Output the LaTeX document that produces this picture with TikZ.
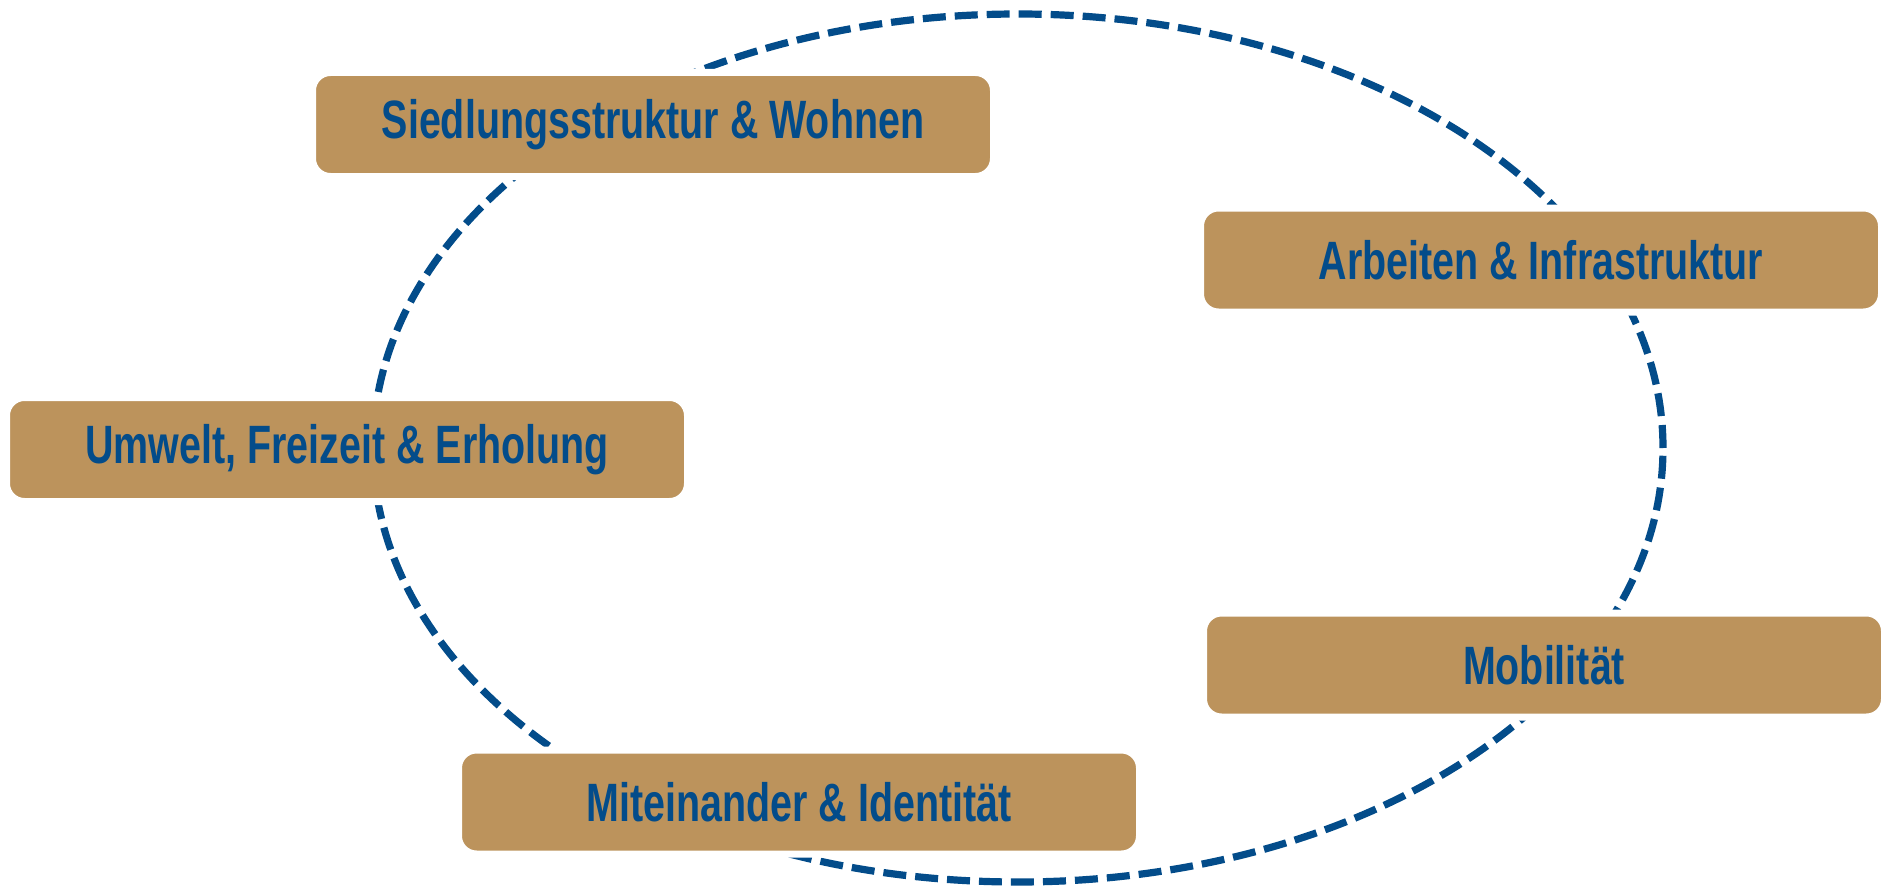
\documentclass[tikz,border=0pt]{standalone}
\usepackage{fontspec}
\setmainfont{Liberation Sans}
\newfontfamily\themafont[FakeStretch=0.73]{Liberation Sans}
\usetikzlibrary{positioning}
\definecolor{BoxTan}{HTML}{BC935C}
\definecolor{DeepBlue}{HTML}{034C8A}

\begin{document}
\begin{tikzpicture}[
    x=0.5pt, y=-0.5pt,
    thema/.style={rectangle, rounded corners=9pt, fill=BoxTan, draw=white,
                  line width=3.5pt, minimum width=340.5pt, minimum height=52pt,
                  inner sep=0pt, text=DeepBlue,
                  font=\themafont\bfseries\fontsize{27}{30}\selectfont},
    ring/.style={draw=DeepBlue, line width=3.6pt, dash pattern=on 11.5pt off 4.5pt}
]
    \useasboundingbox (0,0) rectangle (1885,888);

    % Dashed ring behind the themes
    \draw[ring] (1018,448) ellipse [x radius=322.5pt, y radius=217pt];

    % Theme boxes
    \node[thema] at (653,124.5) (siedlung) {Siedlungsstruktur \& Wohnen};
    \node[thema] at (1541,260) (arbeit) {Arbeiten \& Infrastruktur};
    \node[thema] at (347,449.5) (umwelt) {Umwelt, Freizeit \& Erholung};
    \node[thema] at (1544,665) (mobil) {Mobilität};
    \node[thema] at (799,802) (miteinander) {Miteinander \& Identität};
\end{tikzpicture}
\end{document}
